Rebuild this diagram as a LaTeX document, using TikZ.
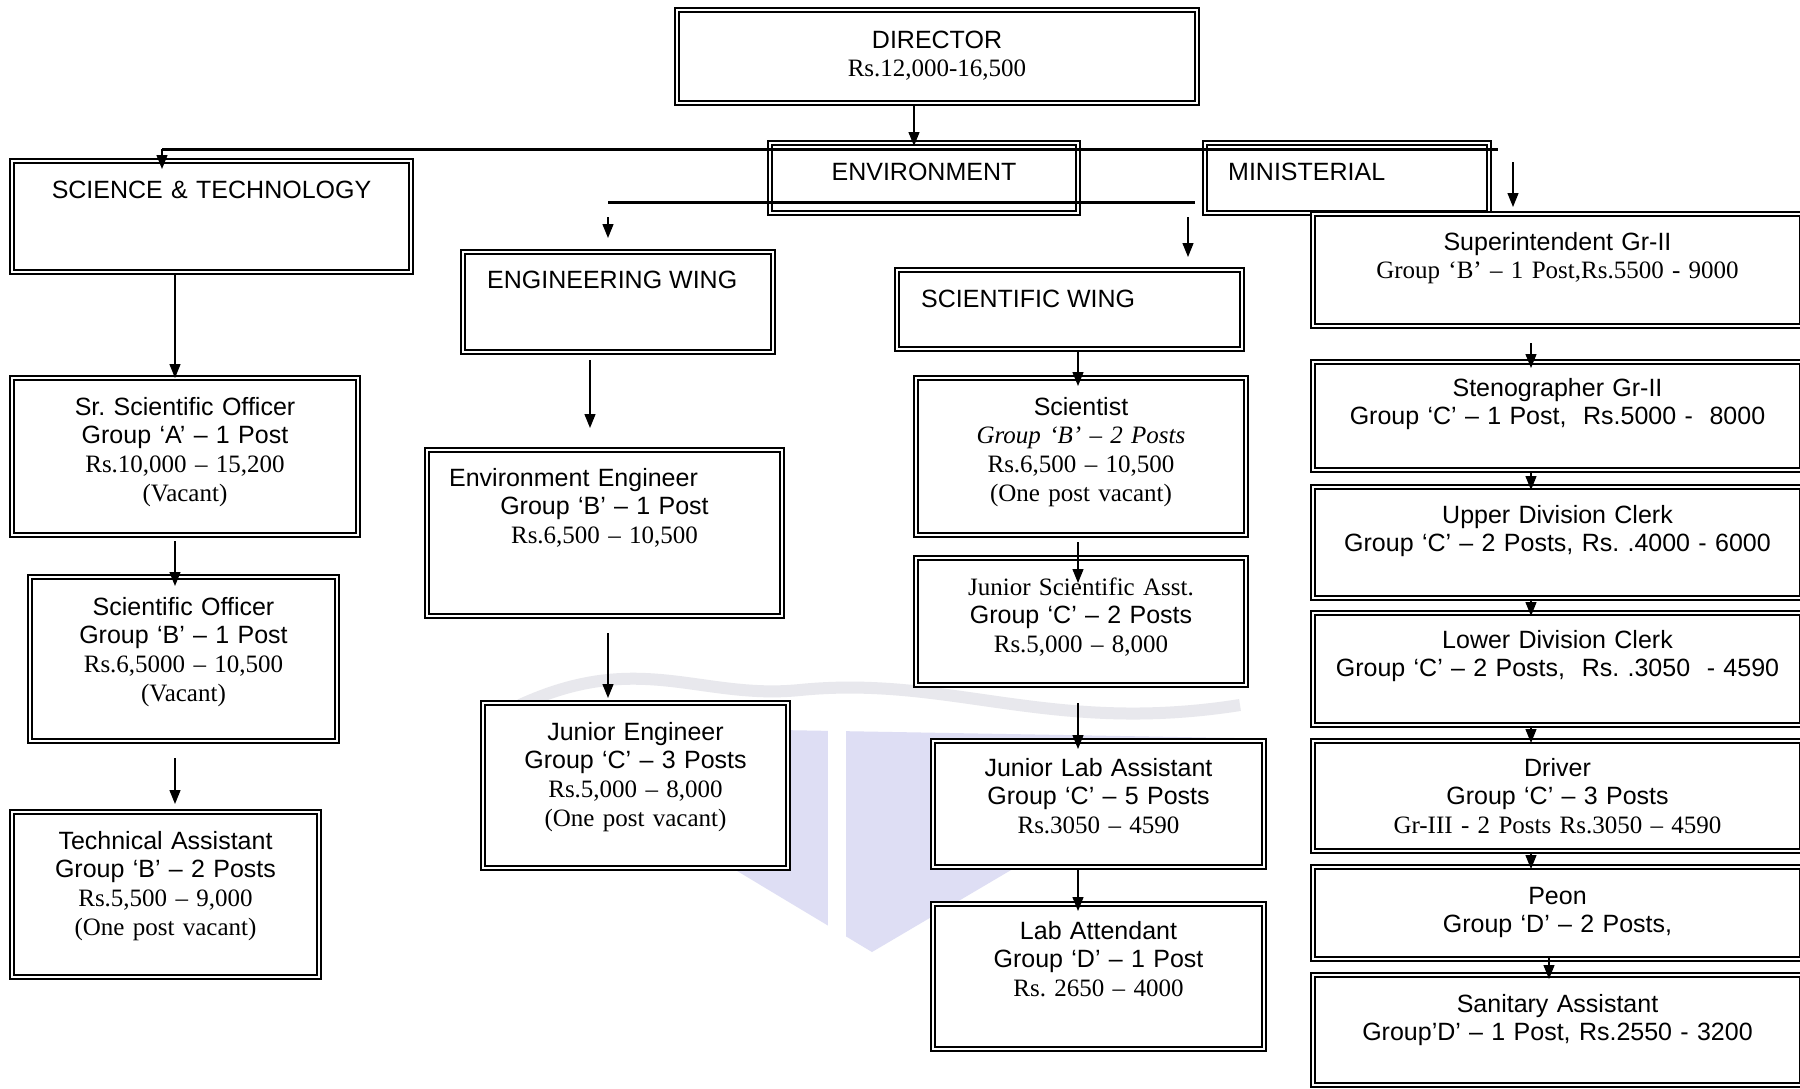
\documentclass[tikz,border=0pt]{standalone}
\usepackage{fontspec}
\setmainfont{Liberation Serif}
\setsansfont{Liberation Sans}
\usetikzlibrary{arrows.meta}
\definecolor{wmblue}{RGB}{222,222,244}
\definecolor{wmgrey}{RGB}{232,232,237}
\newcommand{\postfont}{\fontsize{25}{28.75}\selectfont\sffamily\frenchspacing}
\newcommand{\pay}[1]{{\rmfamily #1}}
\tikzset{
    x=1pt, y=-1pt, % one unit is one pixel of the page, y runs downwards
    box/.style 2 args={draw, fill=white, line width=2.6pt, inner sep=0pt, outer sep=0pt,
        anchor=north west, minimum width=#1, minimum height=#2}, % outer thick frame
    post/.style={align=center, text width=480pt, inner sep=0pt, anchor=base, font=\postfont},
    wing/.style={inner sep=0pt, anchor=base west, font=\postfont},
    arr/.style={-{Triangle[length=14pt,width=11pt]}, line width=1.3pt},
    bus/.style={line width=3pt},
}

\begin{document}
\begin{tikzpicture}

    \path[use as bounding box, fill=white] (0,0) rectangle (1800,1088);

    % faint watermark behind the chart
    \fill[wmblue] (494,725) -- (1235,738) -- (872,952) -- cycle;
    \fill[white] (828,700) rectangle (846,960);
    \draw[wmgrey, line width=12pt] (520,705) .. controls (640,650) and (700,700) .. (800,690)
        .. controls (950,675) and (1050,735) .. (1240,705);

    \node[box={524}{97}] (dir) at (675,8) {};
    \node[box={403}{115}] (st) at (10,159) {};
    \node[box={312}{74}] (env) at (768,141) {};
    \node[box={288}{74}] (min) at (1203,141) {};
    \node[box={314}{104}] (eng) at (461,250) {};
    \node[box={349}{83}] (sw) at (895,268) {};
    \node[box={359}{170}] (ee) at (425,448) {};
    \node[box={309}{169}] (je) at (481,701) {};
    \node[box={334}{161}] (sci) at (914,376) {};
    \node[box={334}{131}] (jsa) at (914,556) {};
    \node[box={335}{130}] (jla) at (931,739) {};
    \node[box={335}{149}] (la) at (931,902) {};
    \node[box={350}{161}] (sso) at (10,376) {};
    \node[box={311}{168}] (so) at (28,575) {};
    \node[box={311}{169}] (ta) at (10,810) {};
    \node[box={493}{116}] (sup) at (1311,212) {};
    \node[box={493}{112}] (steno) at (1311,360) {};
    \node[box={493}{115}] (udc) at (1311,485) {};
    \node[box={493}{116}] (ldc) at (1311,611) {};
    \node[box={493}{114}] (drv) at (1311,739) {};
    \node[box={493}{96}] (peon) at (1311,865) {};
    \node[box={493}{114}] (san) at (1311,973) {};

    % thin inner line of every frame
    \foreach \b in {dir,st,env,min,eng,sw,ee,je,sci,jsa,jla,la,sso,so,ta,sup,steno,udc,ldc,drv,peon,san}
        \draw[line width=1.1pt] ([shift={(4pt,-4pt)}]\b.north west) rectangle ([shift={(-4pt,4pt)}]\b.south east);

    \node[post] (dir-t) at ([yshift=-40pt]dir.north) {DIRECTOR\\\pay{Rs.12,000-16,500}};
    \node[post] (st-t) at ([yshift=-39pt]st.north) {SCIENCE \& TECHNOLOGY};
    \node[post] (env-t) at ([yshift=-39pt]env.north) {ENVIRONMENT};
    \node[wing] (min-t) at ([shift={(25pt,-39pt)}]min.north west) {MINISTERIAL};
    \node[wing] (eng-t) at ([shift={(26pt,-38pt)}]eng.north west) {ENGINEERING WING};
    \node[wing] (sw-t) at ([shift={(26pt,-39pt)}]sw.north west) {SCIENTIFIC WING};

    \node[post] (sso-t) at ([yshift=-39pt]sso.north) {Sr. Scientific Officer\\Group ‘A’ – 1 Post\\\pay{Rs.10,000 – 15,200}\\\pay{(Vacant)}};
    \node[post] (so-t) at ([yshift=-40pt]so.north) {Scientific Officer\\Group ‘B’ – 1 Post\\\pay{Rs.6,5000 – 10,500}\\\pay{(Vacant)}};
    \node[post] (ta-t) at ([yshift=-39pt]ta.north) {Technical Assistant\\Group ‘B’ – 2 Posts\\\pay{Rs.5,500 – 9,000}\\\pay{(One post vacant)}};

    \node[post] (ee-t) at ([yshift=-38pt]ee.north) {\hspace*{-62pt}Environment Engineer\\Group ‘B’ – 1 Post\\\pay{Rs.6,500 – 10,500}};
    \node[post] (je-t) at ([yshift=-39pt]je.north) {Junior Engineer\\Group ‘C’ – 3 Posts\\\pay{Rs.5,000 – 8,000}\\\pay{(One post vacant)}};

    \node[post] (sci-t) at ([yshift=-39pt]sci.north) {Scientist\\\pay{\itshape Group ‘B’ – 2 Posts}\\\pay{Rs.6,500 – 10,500}\\\pay{(One post vacant)}};
    \node[post] (jsa-t) at ([yshift=-39pt]jsa.north) {\pay{Junior Scientific Asst.}\\Group ‘C’ – 2 Posts\\\pay{Rs.5,000 – 8,000}};
    \node[post] (jla-t) at ([yshift=-37pt]jla.north) {Junior Lab Assistant\\Group ‘C’ – 5 Posts\\\pay{Rs.3050 – 4590}};
    \node[post] (la-t) at ([yshift=-37pt]la.north) {Lab Attendant\\Group ‘D’ – 1 Post\\\pay{Rs. 2650 – 4000}};

    \node[post] (sup-t) at ([yshift=-38pt]sup.north) {Superintendent Gr-II\\\pay{Group ‘B’ – 1 Post,Rs.5500 - 9000}};
    \node[post] (steno-t) at ([yshift=-36pt]steno.north) {Stenographer Gr-II\\Group ‘C’ – 1 Post,\ \ Rs.5000 -\ \ 8000};
    \node[post] (udc-t) at ([yshift=-38pt]udc.north) {Upper Division Clerk\\Group ‘C’ – 2 Posts, Rs. .4000 - 6000};
    \node[post] (ldc-t) at ([yshift=-37pt]ldc.north) {Lower Division Clerk\\Group ‘C’ – 2 Posts,\ \ Rs. .3050\ \ - 4590};
    \node[post] (drv-t) at ([yshift=-37pt]drv.north) {Driver\\Group ‘C’ – 3 Posts\\\pay{Gr-III - 2 Posts Rs.3050 – 4590}};
    \node[post] (peon-t) at ([yshift=-39pt]peon.north) {Peon\\Group ‘D’ – 2 Posts,};
    \node[post] (san-t) at ([yshift=-39pt]san.north) {Sanitary Assistant\\Group’D’ – 1 Post, Rs.2550 - 3200};

    % branch lines and the points the arrows leave from
    \coordinate (bus1w) at (162,149);
    \coordinate (bus1e) at (1498,149);
    \coordinate (bus2w) at (608,202);
    \coordinate (bus2e) at (1195,202);
    \coordinate (minarr) at (1513,162);
    \coordinate (swarr) at (1188,217);
    \coordinate (colD) at (914,0);
    \coordinate (colA) at (175,0);
    \coordinate (colE) at (590,0);
    \coordinate (colJ) at (608,0);
    \coordinate (colS) at (1078,0);
    \coordinate (colM) at (1531,0);
    \coordinate (colP) at (1549,0);

    \draw[bus] (bus1w) -- (bus1e);
    \draw[bus] (bus2w) -- (bus2e);

    \draw[arr, shorten >=-5pt] (dir.south -| colD) -- (env.north -| colD);
    \draw[arr, shorten >=-10pt] (bus1w) -- (bus1w |- st.north);
    \draw[arr, shorten >=5pt] (minarr) -- (minarr |- sup.north);
    \draw[arr, shorten >=12pt] ([yshift=-15pt]bus2w) -- (bus2w |- eng.north);
    \draw[arr, shorten >=11pt] (swarr) -- (swarr |- sw.north);

    \draw[arr, shorten >=-2pt] (st.south -| colA) -- (sso.north -| colA);
    \draw[arr, shorten <=4pt, shorten >=-11pt] (sso.south -| colA) -- (so.north -| colA);
    \draw[arr, shorten <=15pt, shorten >=6pt] (so.south -| colA) -- (ta.north -| colA);

    \draw[arr, shorten <=6pt, shorten >=20pt] (eng.south -| colE) -- (ee.north -| colE);
    \draw[arr, shorten <=15pt, shorten >=3pt] (ee.south -| colJ) -- (je.north -| colJ);

    \draw[arr, shorten >=-10pt] (sw.south -| colS) -- (sci.north -| colS);
    \draw[arr, shorten <=5pt, shorten >=-27pt] (sci.south -| colS) -- (jsa.north -| colS);
    \draw[arr, shorten <=16pt, shorten >=-10pt] (jsa.south -| colS) -- (jla.north -| colS);
    \draw[arr, shorten >=-9pt] (jla.south -| colS) -- (la.north -| colS);

    \draw[arr, shorten <=15pt, shorten >=-8pt] (sup.south -| colM) -- (steno.north -| colM);
    \draw[arr, shorten >=-5pt] (steno.south -| colM) -- (udc.north -| colM);
    \draw[arr, shorten >=-5pt] (udc.south -| colM) -- (ldc.north -| colM);
    \draw[arr, shorten >=-4pt] (ldc.south -| colM) -- (drv.north -| colM);
    \draw[arr, shorten >=-4pt] (drv.south -| colM) -- (peon.north -| colM);
    \draw[arr, shorten <=-5pt, shorten >=-6pt] (peon.south -| colP) -- (san.north -| colP);

\end{tikzpicture}
\end{document}
